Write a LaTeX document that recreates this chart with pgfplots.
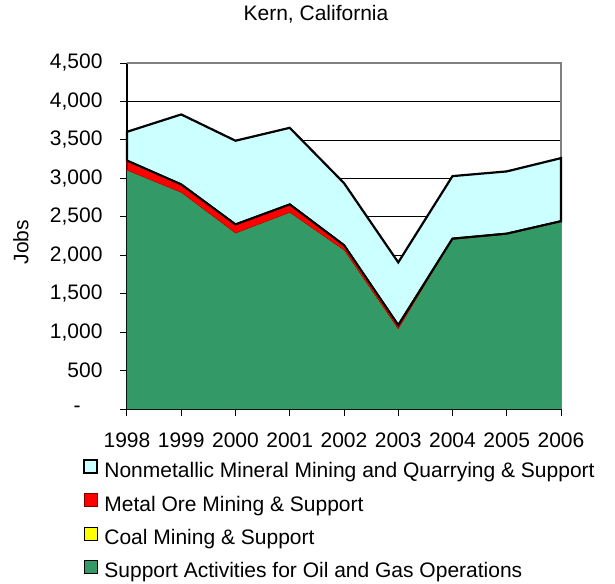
\documentclass[border=0pt]{standalone}
\usepackage{pgfplots}
\pgfplotsset{compat=1.18}
\usepackage{fontspec}
\setmainfont{Liberation Sans}
\definecolor{oilgreen}{HTML}{339966}
\definecolor{cyanfill}{HTML}{CCFFFF}
\definecolor{metalred}{HTML}{FF0000}
\definecolor{darkred}{HTML}{800000}
\definecolor{coalyellow}{HTML}{FFFF00}
\definecolor{bordergray}{HTML}{808080}

\pgfplotstableread{
year oil coal metal zero nonmetal
1998 3100 0 130 0 375
1999 2810 0 110 0 911
2000 2280 0 120 0 1089
2001 2550 0 110 0 997
2002 2060 0 70 0 808
2003 1030 0 60 0 817
2004 2200 0 15 0 814
2005 2265 0 15 0 810
2006 2430 0 12 0 821
}\datatable

\begin{document}
\fontsize{21bp}{25bp}\selectfont
\begin{tikzpicture}
\useasboundingbox (-127bp,-175bp) rectangle (488bp,409bp);
\begin{axis}[
  at={(0,0)}, anchor=south west,
  scale only axis, width=434bp, height=346bp,
  xmin=1998, xmax=2006, ymin=0, ymax=4500,
  clip=false,
  xtick={1998,1999,2000,2001,2002,2003,2004,2005,2006},
  xticklabels={1998,1999,2000,2001,2002,2003,2004,2005,2006},
  ytick={0,500,1000,1500,2000,2500,3000,3500,4000,4500},
  yticklabels={{-\kern22bp},500,{1,000},{1,500},{2,000},{2,500},{3,000},{3,500},{4,000},{4,500}},
  axis x line*=bottom, axis y line*=left,
  axis line style={black, line width=1.2bp, -},
  tick align=outside, major tick length=7bp,
  tick style={black, line width=1bp},
  ymajorgrids, grid style={black, line width=0.7bp},
  ticklabel style={font=\fontsize{21bp}{25bp}\selectfont, inner sep=0pt},
  xticklabel style={yshift=-16.7bp},
  yticklabel style={xshift=-17.3bp},
  stack plots=y,
  legend style={at={(-0.1014,-0.1445)}, anchor=north west, draw=none, fill=none,
    inner sep=0pt, row sep=11.4bp, column sep=6bp,
    font=\fontsize{21bp}{25bp}\selectfont,
    nodes={inner sep=0pt, text height=15bp, text depth=4bp}},
  legend cell align=left,
  reverse legend,
  legend image code/.code={\draw[#1] (0bp,-1bp) rectangle (13bp,12bp);},
]
\addplot[fill=oilgreen, draw=none] table[x=year, y=oil] {\datatable} \closedcycle;
\addlegendentry{Support Activities for Oil and Gas Operations}
\addplot[fill=coalyellow, draw=none] table[x=year, y=coal] {\datatable} \closedcycle;
\addlegendentry{Coal Mining \& Support}
\addplot[fill=metalred, draw=darkred, line width=1.2bp] table[x=year, y=metal] {\datatable} \closedcycle;
\addlegendentry{Metal Ore Mining \& Support}
\addplot[fill=cyanfill, draw=black, line width=2.2bp] table[x=year, y=nonmetal] {\datatable} \closedcycle;
\addlegendentry{Nonmetallic Mineral Mining and Quarrying \& Support}
\draw[bordergray, line width=1.5bp] (rel axis cs:0,1) -- (rel axis cs:1,1) -- (rel axis cs:1,0);
\draw[black, line width=2.2bp] (axis cs:2006,2442) -- (axis cs:2006,3263);
\end{axis}
\begin{axis}[
  at={(0,0)}, anchor=south west,
  scale only axis, width=434bp, height=346bp,
  xmin=1998, xmax=2006, ymin=0, ymax=4500,
  clip=false, hide axis, stack plots=y,
]
\addplot[draw=none] table[x=year, y=oil] {\datatable};
\addplot[draw=none] table[x=year, y=coal] {\datatable};
\addplot[draw=none] table[x=year, y=metal] {\datatable};
\addplot[draw=black, line width=2bp] table[x=year, y=zero] {\datatable};
\end{axis}
\node[anchor=base] at (189bp,388.3bp) {Kern, California};
\node[rotate=90, anchor=base] at (-98.7bp,167bp) {Jobs};
\end{tikzpicture}
\end{document}
